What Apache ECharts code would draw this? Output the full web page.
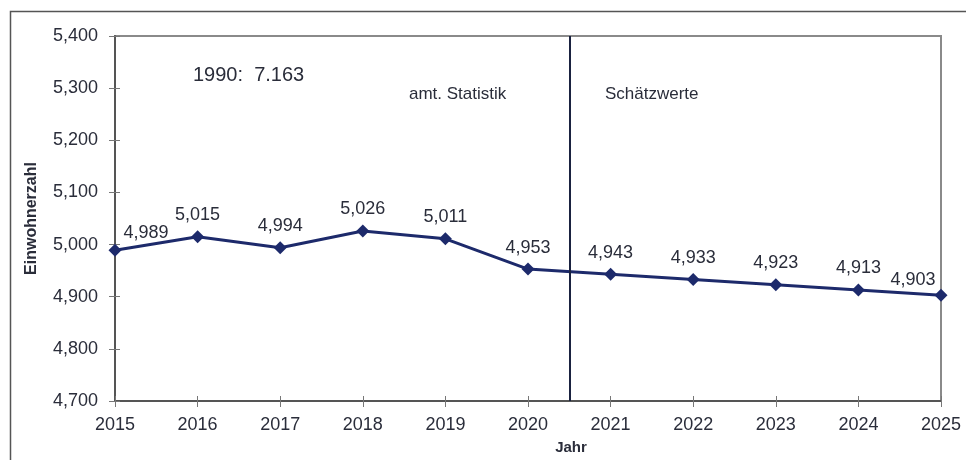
<!DOCTYPE html>
<html><head><meta charset="utf-8">
<script src="https://cdn.jsdelivr.net/npm/echarts@6/dist/echarts.min.js"></script>
<style>html,body{margin:0;padding:0;background:#fff}#c{width:966px;height:460px}</style>
</head><body><div id="c"></div>
<script>
const years = [2015,2016,2017,2018,2019,2020,2021,2022,2023,2024,2025];
const population = [4989,5015,4994,5026,5011,4953,4943,4933,4923,4913,4903];
const yMin = 4700, yMax = 5400, yStep = 100;
const splitYear = 2020.5;
const fmt = v => Math.round(v).toString().replace(/\B(?=(\d{3})+(?!\d))/g, ',');
const txt = '#2a2d3a';
const navy = '#1d2a6b';
const FF = 'Liberation Sans, Arial, sans-serif';

const chart = echarts.init(document.getElementById('c'));
chart.setOption({
  animation:false,
  textStyle:{fontFamily:FF},
  grid:{left:115,right:25,top:36,bottom:58,show:true,borderColor:'#8a8a8a',borderWidth:2,backgroundColor:'#fff'},
  xAxis:[{type:'value',min:2015,max:2025,interval:1,
    name:'Jahr',nameLocation:'middle',nameGap:39,
    nameTextStyle:{fontWeight:'bold',fontSize:15,color:txt,padding:[0,0,0,86]},
    axisLine:{lineStyle:{color:'#555',width:2}},
    axisTick:{length:6,lineStyle:{color:'#777'}},
    splitLine:{show:false},
    axisLabel:{fontSize:18,color:txt,margin:15,formatter:v=>String(v)}},
    {type:'value',min:2015,max:2025,interval:1,position:'bottom',
    axisLine:{show:false},axisTick:{inside:true,length:5,lineStyle:{color:'#777'}},
    axisLabel:{show:false},splitLine:{show:false}}],
  yAxis:[{type:'value',min:yMin,max:yMax,interval:yStep,
    name:'Einwohnerzahl',nameLocation:'middle',nameGap:75,nameRotate:90,
    nameTextStyle:{fontWeight:'bold',fontSize:16,color:txt},
    axisLine:{show:true,lineStyle:{color:'#555',width:2}},
    axisTick:{show:true,length:6,lineStyle:{color:'#777'}},
    splitLine:{show:false},
    axisLabel:{fontSize:18,color:txt,margin:17,formatter:fmt}},
    {type:'value',min:yMin,max:yMax,interval:yStep,position:'left',
    axisLine:{show:false},axisTick:{show:true,inside:true,length:5,lineStyle:{color:'#777'}},
    axisLabel:{show:false},splitLine:{show:false}}],
  series:[{type:'line',data:years.map((y,i)=>({value:[y,population[i]],
      label: i===0 ? {position:'right',offset:[-4,-17]} : (i===years.length-1 ? {position:'top',offset:[-28,6]} : undefined)})),
    symbol:'diamond',symbolSize:13,
    lineStyle:{color:navy,width:3},itemStyle:{color:navy},
    label:{show:true,position:'top',distance:6,fontSize:18,color:txt,formatter:p=>fmt(p.value[1])},
    markLine:{silent:true,symbol:'none',label:{show:false},
      lineStyle:{color:'#1a2240',width:2,type:'solid'},
      data:[{xAxis:splitYear}]}
  }],
  graphic:[
    {type:'rect',left:8,top:9,shape:{width:1000,height:500},style:{fill:'none',stroke:'#555',lineWidth:1.5},z:-1},
    {type:'text',left:193,top:65,style:{text:'1990:  7.163',font:'20px Liberation Sans, Arial',fill:txt}},
    {type:'text',left:409,top:86,style:{text:'amt. Statistik',font:'17px Liberation Sans, Arial',fill:txt}},
    {type:'text',left:605,top:86,style:{text:'Schätzwerte',font:'17px Liberation Sans, Arial',fill:txt}}
  ]
});
</script></body></html>
